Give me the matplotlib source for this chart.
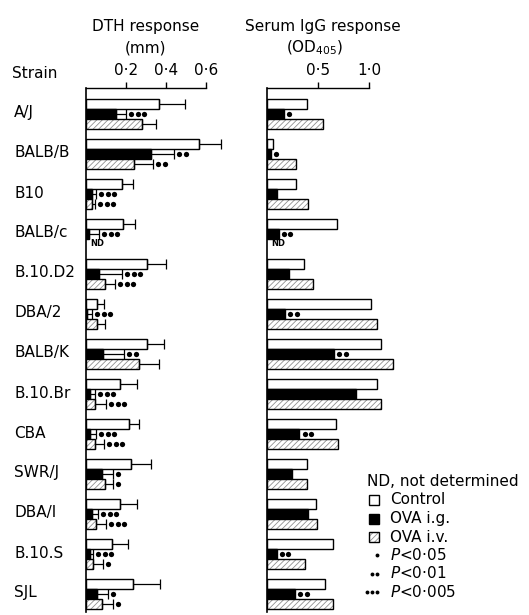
import numpy as np
import matplotlib
matplotlib.use("Agg")
import matplotlib.pyplot as plt
from matplotlib.patches import Rectangle
from matplotlib.lines import Line2D
from matplotlib.transforms import offset_copy

plt.rcParams['font.family'] = ['DejaVu Sans']
plt.rcParams['hatch.linewidth'] = 0.6

strains = ['A/J', 'BALB/B', 'B10', 'BALB/c', 'B.10.D2', 'DBA/2', 'BALB/K',
           'B.10.Br', 'CBA', 'SWR/J', 'DBA/I', 'B.10.S', 'SJL']
nan = np.nan

# DTH response (mm); *_err is the upper error length
dth_ctrl = [0.365, 0.565, 0.18, 0.185, 0.305, 0.055, 0.305, 0.17, 0.215, 0.225, 0.17, 0.13, 0.235]
dth_ctrl_err = [0.13, 0.11, 0.053, 0.06, 0.095, 0.035, 0.085, 0.085, 0.05, 0.10, 0.085, 0.08, 0.135]
dth_ig = [0.15, 0.325, 0.03, 0.015, 0.065, 0.005, 0.085, 0.02, 0.02, 0.08, 0.028, 0.02, 0.055]
dth_ig_err = [0.05, 0.115, 0.02, 0.05, 0.115, 0.025, 0.105, 0.025, 0.03, 0.055, 0.032, 0.015, 0.055]
dth_iv = [0.28, 0.24, 0.03, nan, 0.095, 0.055, 0.265, 0.045, 0.045, 0.095, 0.05, 0.035, 0.08]
dth_iv_err = [0.07, 0.095, 0.015, nan, 0.05, 0.04, 0.10, 0.055, 0.045, 0.04, 0.05, 0.05, 0.055]
dth_ig_sig = [3, 2, 3, 3, 3, 3, 2, 3, 3, 1, 3, 3, 1]
dth_iv_sig = [0, 2, 3, 0, 3, 0, 0, 3, 3, 1, 3, 1, 1]

# serum IgG (OD405)
igg_ctrl = [0.386, 0.06, 0.28, 0.686, 0.36, 1.017, 1.11, 1.078, 0.673, 0.386, 0.474, 0.647, 0.569]
igg_ig = [0.164, 0.033, 0.092, 0.11, 0.213, 0.173, 0.654, 0.87, 0.314, 0.242, 0.396, 0.092, 0.271]
igg_iv = [0.543, 0.28, 0.396, nan, 0.445, 1.075, 1.23, 1.115, 0.696, 0.39, 0.49, 0.373, 0.641]
igg_ig_sig = [1, 1, 0, 2, 0, 2, 2, 0, 2, 0, 0, 2, 2]

W, H = 529, 615
fig = plt.figure(figsize=(W / 100, H / 100), dpi=100)

n = len(strains)
grp = np.arange(n) * 4.0
y_ctrl = grp + 1.6
y_ig = grp + 2.6
y_iv = grp + 3.6


def put_dots(ax, x, y, count):
    # significance dots just right of the bar / error cap
    for k in range(count):
        tr = offset_copy(ax.transData, fig=fig, x=3.8 + 4.7 * k, y=0, units='points')
        ax.plot([x], [y], 'o', transform=tr, ms=3.8, color='black', mew=0, clip_on=False)


def draw_panel(ax, ctrl, ig, iv, ctrl_err=None, ig_err=None, iv_err=None,
               ig_sig=None, iv_sig=None):
    ax.barh(y_ctrl, ctrl, height=1, color='white', edgecolor='black', lw=1)
    ax.barh(y_ig, ig, height=1, color='black', edgecolor='black', lw=1)
    iv = np.array(iv)
    ok = ~np.isnan(iv)
    ax.barh(y_iv[ok], iv[ok], height=1, color='white', edgecolor='#909090',
            hatch='//////', lw=0)
    ax.barh(y_iv[ok], iv[ok], height=1, fill=False, edgecolor='black', lw=1)
    ends_ig = np.array(ig, dtype=float)
    ends_iv = iv.copy()
    if ctrl_err is not None:
        for ys, vals, errs in [(y_ctrl, ctrl, ctrl_err), (y_ig, ig, ig_err), (y_iv, iv, iv_err)]:
            vals = np.array(vals, dtype=float)
            errs = np.array(errs, dtype=float)
            m = ~np.isnan(vals)
            ax.errorbar(vals[m], ys[m], xerr=[np.zeros(m.sum()), errs[m]], fmt='none',
                        ecolor='black', elinewidth=0.9, capsize=3.5, capthick=0.9)
        ends_ig = ends_ig + np.array(ig_err)
        ends_iv = ends_iv + np.array(iv_err)
    for i in range(n):
        if ig_sig and ig_sig[i]:
            put_dots(ax, ends_ig[i], y_ig[i], ig_sig[i])
        if iv_sig and iv_sig[i]:
            put_dots(ax, ends_iv[i], y_iv[i], iv_sig[i])
        if np.isnan(iv[i]):
            ax.annotate('ND', (0, y_iv[i]), xytext=(3, 0), textcoords='offset points',
                        ha='left', va='center', fontsize=6, fontweight='bold')


def style_axis(ax, xmax, top, ticks, labels):
    ax.set_xlim(0, xmax)
    ax.set_ylim(52.4, 0)
    for s in ['right', 'bottom']:
        ax.spines[s].set_visible(False)
    ax.spines['top'].set_bounds(0, top)
    ax.spines['top'].set_linewidth(1)
    ax.spines['left'].set_linewidth(1.2)
    ax.xaxis.tick_top()
    ax.set_xticks(ticks)
    ax.set_xticklabels(labels, fontsize=11)
    ax.tick_params(axis='x', direction='out', length=4, width=1, pad=3)
    ax.set_yticks([])
    ax.patch.set_visible(False)


ax1 = fig.add_axes([86 / W, 1 - 612 / H, 170 / W, 524 / H])
draw_panel(ax1, dth_ctrl, dth_ig, dth_iv, dth_ctrl_err, dth_ig_err, dth_iv_err,
           dth_ig_sig, dth_iv_sig)
style_axis(ax1, 0.85, 0.6, [0.2, 0.4, 0.6], ['0\u00b72', '0\u00b74', '0\u00b76'])

ax2 = fig.add_axes([267.3 / W, 1 - 612 / H, 255 / W, 524 / H])
draw_panel(ax2, igg_ctrl, igg_ig, igg_iv, ig_sig=igg_ig_sig)
style_axis(ax2, 2.5, 1.0, [0.5, 1.0], ['0\u00b75', '1\u00b70'])

# strain labels
for i, s in enumerate(strains):
    fig.text(14 / W, 1 - (88 + 25 + 40 * i) / H, s, ha='left', va='center', fontsize=11)

fig.text(12 / W, 1 - 74 / H, 'Strain', ha='left', va='center', fontsize=11)
fig.text(146 / W, 1 - 26 / H, 'DTH response', ha='center', va='center', fontsize=11)
fig.text(146 / W, 1 - 48 / H, '(mm)', ha='center', va='center', fontsize=11)
fig.text(323 / W, 1 - 26 / H, 'Serum IgG response', ha='center', va='center', fontsize=11)
fig.text(315 / W, 1 - 48 / H, '(OD$_{405}$)', ha='center', va='center', fontsize=11)

# legend
fig.text(367 / W, 1 - 482 / H, 'ND, not determined', ha='left', va='center', fontsize=11)
sq = 10
leg_items = [('Control', 'white', None), ('OVA i.g.', 'black', None), ('OVA i.v.', 'white', '//////')]
for k, (lab, fc, hatch) in enumerate(leg_items):
    yc = 500 + 18.5 * k
    x0, y0 = 369 / W, 1 - (yc + sq / 2) / H
    if hatch:
        fig.add_artist(Rectangle((x0, y0), sq / W, sq / H, transform=fig.transFigure,
                                 facecolor='white', edgecolor='#909090', hatch=hatch, lw=0))
        fig.add_artist(Rectangle((x0, y0), sq / W, sq / H, transform=fig.transFigure,
                                 fill=False, edgecolor='black', lw=1))
    else:
        fig.add_artist(Rectangle((x0, y0), sq / W, sq / H, transform=fig.transFigure,
                                 facecolor=fc, edgecolor='black', lw=1))
    fig.text(390 / W, 1 - yc / H, lab, ha='left', va='center', fontsize=11)

for k, p in enumerate(['0\u00b705', '0\u00b701', '0\u00b7005']):
    yc = 555 + 18.5 * k
    xs = [(377 - 5 * j) / W for j in range(k + 1)]
    fig.add_artist(Line2D(xs, [1 - yc / H] * len(xs), transform=fig.transFigure,
                          ls='none', marker='o', ms=2.8, mew=0, color='black'))
    fig.text(390 / W, 1 - yc / H, '$P$<' + p, ha='left', va='center', fontsize=11)

fig.savefig('out.png', dpi=100)
